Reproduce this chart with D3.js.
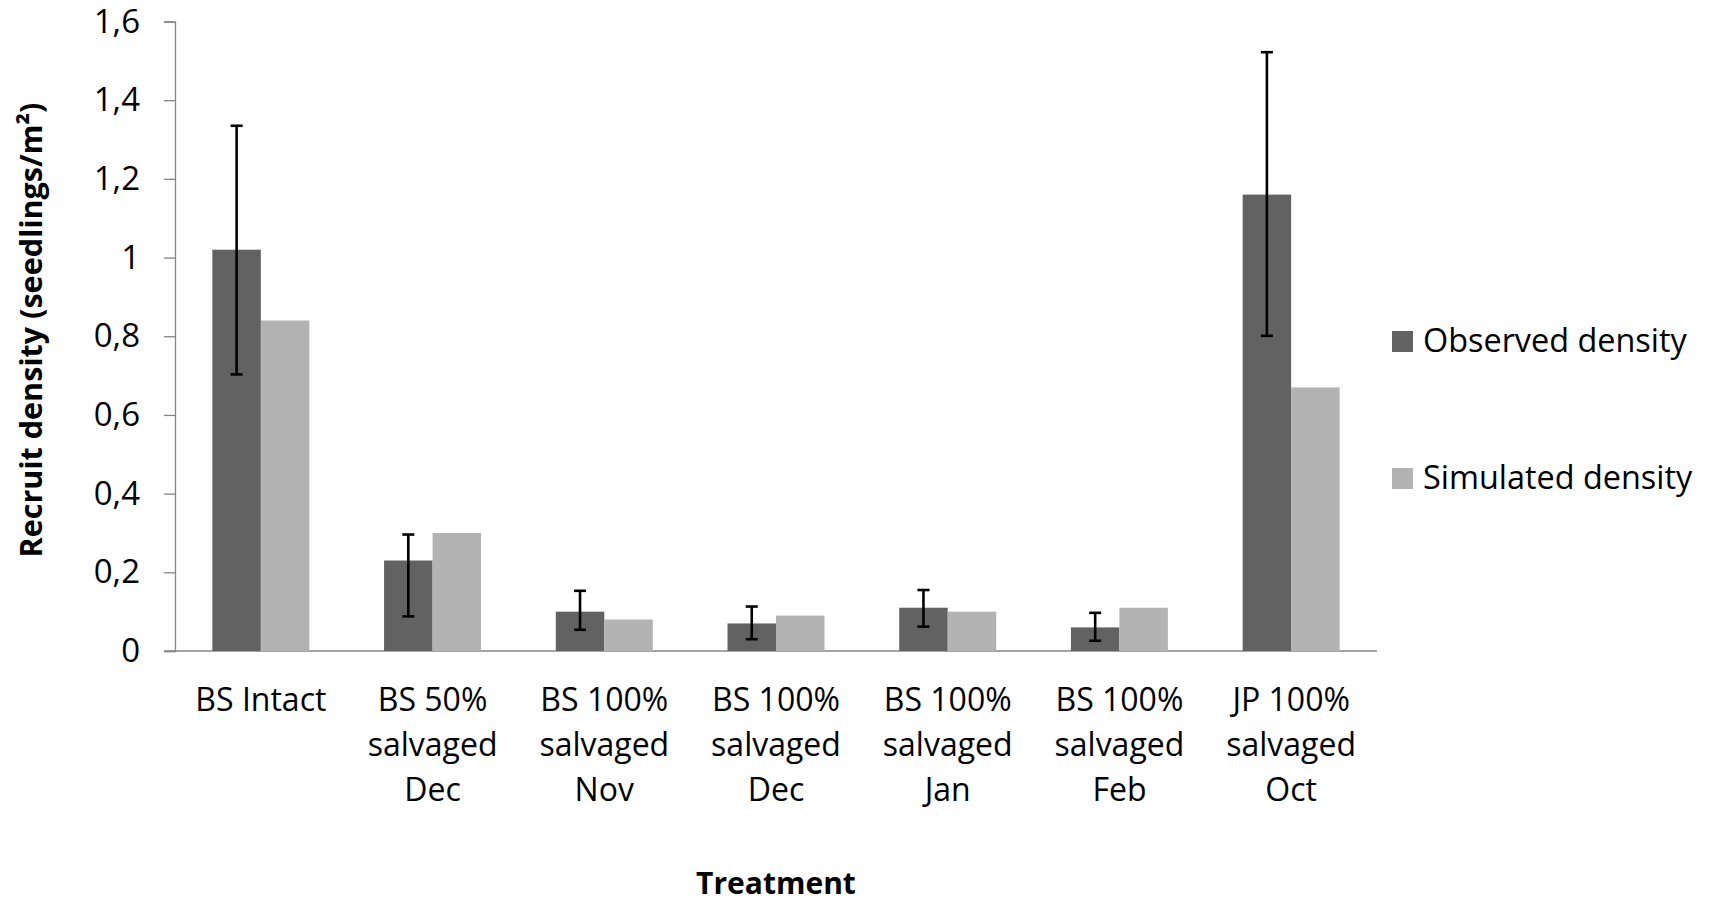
<!DOCTYPE html>
<html>
<head>
<meta charset="utf-8">
<script src="https://cdn.jsdelivr.net/npm/d3@7"></script>
<style>
  html, body { margin: 0; padding: 0; background: #ffffff; }
  svg { display: block; }
  text { font-family: "Open Sans", "Noto Sans", sans-serif; fill: #000; }
</style>
</head>
<body>
<svg id="chart" width="1712" height="903"></svg>
<script>
// ---- data ----
const categories = [
  ["BS Intact"],
  ["BS 50%", "salvaged", "Dec"],
  ["BS 100%", "salvaged", "Nov"],
  ["BS 100%", "salvaged", "Dec"],
  ["BS 100%", "salvaged", "Jan"],
  ["BS 100%", "salvaged", "Feb"],
  ["JP 100%", "salvaged", "Oct"]
];
const observed  = [1.02, 0.23, 0.10, 0.07, 0.11, 0.06, 1.16];
const simulated = [0.84, 0.30, 0.08, 0.09, 0.10, 0.11, 0.67];
const errUpper  = [1.335, 0.296, 0.153, 0.113, 0.155, 0.097, 1.522];
const errLower  = [0.703, 0.088, 0.054, 0.030, 0.062, 0.026, 0.801];
const seriesNames = ["Observed density", "Simulated density"];
const yTicks = [0, 0.2, 0.4, 0.6, 0.8, 1, 1.2, 1.4, 1.6];
const yTitle = "Recruit density (seedlings/m\u00B2)";
const xTitle = "Treatment";

// ---- layout ----
const svg = d3.select("#chart");
const mLeft = 175, mRight = 1377, mTop = 21.5, mBottom = 651;
const colors = ["#626262", "#b3b3b3"];

const x = d3.scaleBand().domain(d3.range(categories.length)).range([mLeft, mRight]).paddingInner(0).paddingOuter(0);
const y = d3.scaleLinear().domain([0, 1.6]).range([mBottom, mTop]);
const barW = 48.5;

// axes
const yAxis = d3.axisLeft(y).tickValues(yTicks).tickSize(11).tickPadding(10)
  .tickFormat(d => d3.format("~g")(d).replace(".", ","));
const gy = svg.append("g").attr("transform", `translate(${mLeft},0)`).call(yAxis);
gy.select(".domain").attr("stroke", "#868686").attr("stroke-width", 1.3);
gy.selectAll(".tick line").attr("stroke", "#868686").attr("stroke-width", 1.3);
gy.selectAll(".tick text").attr("font-size", 33).attr("fill", "#000")
  .style("font-family", '"Open Sans", sans-serif').attr("x", -35);

// x axis line
svg.append("line").attr("x1", mLeft - 11).attr("x2", mRight).attr("y1", y(0)).attr("y2", y(0))
  .attr("stroke", "#868686").attr("stroke-width", 1.3);

// bars
const groups = svg.append("g").selectAll("g").data(categories).join("g");
groups.append("rect")
  .attr("x", (d, i) => x(i) + x.bandwidth() / 2 - barW)
  .attr("y", (d, i) => y(observed[i]))
  .attr("width", barW)
  .attr("height", (d, i) => y(0) - y(observed[i]))
  .attr("fill", colors[0]);
groups.append("rect")
  .attr("x", (d, i) => x(i) + x.bandwidth() / 2)
  .attr("y", (d, i) => y(simulated[i]))
  .attr("width", barW)
  .attr("height", (d, i) => y(0) - y(simulated[i]))
  .attr("fill", colors[1]);

// error bars
const eb = svg.append("g").attr("stroke", "#000").attr("stroke-width", 2.6);
categories.forEach((d, i) => {
  const cx = x(i) + x.bandwidth() / 2 - barW / 2;
  eb.append("line").attr("x1", cx).attr("x2", cx).attr("y1", y(errUpper[i])).attr("y2", y(errLower[i]));
  eb.append("line").attr("x1", cx - 6).attr("x2", cx + 6).attr("y1", y(errUpper[i])).attr("y2", y(errUpper[i]));
  eb.append("line").attr("x1", cx - 6).attr("x2", cx + 6).attr("y1", y(errLower[i])).attr("y2", y(errLower[i]));
});

// category labels
const lab = svg.append("g");
categories.forEach((lines, i) => {
  const t = lab.append("text").attr("text-anchor", "middle").attr("font-size", 32)
    .attr("x", x(i) + x.bandwidth() / 2).attr("y", 711);
  lines.forEach((s, k) => t.append("tspan").attr("x", x(i) + x.bandwidth() / 2).attr("y", 711 + k * 45).text(s));
});

// axis titles
svg.append("text").attr("text-anchor", "middle").attr("font-weight", "bold").attr("font-size", 30)
  .attr("x", (mLeft + mRight) / 2).attr("y", 894).text(xTitle);
svg.append("text").attr("text-anchor", "middle").attr("font-weight", "bold").attr("font-size", 30.5)
  .attr("transform", "translate(42,330) rotate(-90)").text(yTitle);

// legend
const leg = svg.append("g");
seriesNames.forEach((s, i) => {
  const yy = 331 + i * 137;
  leg.append("rect").attr("x", 1392).attr("y", yy).attr("width", 21).attr("height", 21).attr("fill", colors[i]);
  leg.append("text").attr("x", 1423).attr("y", yy + 21).attr("font-size", 32.4).text(s);
});
</script>
</body>
</html>
